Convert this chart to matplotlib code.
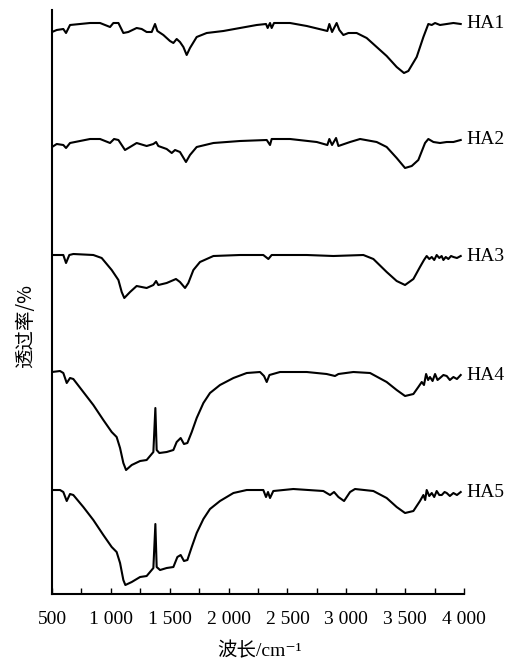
import matplotlib.pyplot as plt
from matplotlib.ticker import FixedLocator

fonts = ['Liberation Serif', 'Noto Sans CJK SC', 'DejaVu Serif']
plt.rcParams['font.family'] = fonts

# wavenumber (cm-1) and transmittance (a.u., stacked)
ha1_wn = [500, 540, 596, 619, 653, 823, 908, 993, 1021, 1064, 1106, 1148, 1219, 1262, 1304,
          1347, 1375, 1395, 1446, 1502, 1531, 1559, 1587, 1616, 1644, 1672, 1729, 1814, 1956,
          2097, 2239, 2318, 2332, 2352, 2366, 2386, 2522, 2664, 2805, 2839, 2856, 2879, 2918,
          2941, 2975, 3018, 3088, 3173, 3258, 3343, 3428, 3490, 3527, 3598, 3655, 3697, 3726,
          3754, 3796, 3853, 3910, 3972]
ha1_t = [562, 564, 565, 561, 569, 571, 571, 567, 571, 571, 561, 562, 566, 565, 562,
         562, 570, 563, 559, 553, 551, 555, 552, 547, 539, 546, 557, 561, 563,
         566, 569, 570, 566, 571, 566, 571, 571, 568, 564, 563, 570, 562, 571,
         564, 559, 561, 561, 556, 547, 538, 527, 521, 523, 537, 557, 570, 569,
         571, 569, 570, 571, 570]

ha2_wn = [500, 540, 596, 619, 653, 823, 908, 993, 1027, 1064, 1120, 1163, 1219, 1304, 1361,
          1384, 1403, 1474, 1517, 1545, 1587, 1638, 1672, 1729, 1871, 2097, 2324, 2352, 2366,
          2522, 2749, 2839, 2856, 2879, 2913, 2933, 3032, 3117, 3258, 3343, 3428, 3499, 3556,
          3612, 3669, 3697, 3740, 3796, 3853, 3910, 3972]
ha2_t = [447, 450, 449, 446, 451, 455, 455, 451, 455, 454, 444, 447, 451, 448, 450,
         452, 448, 445, 441, 444, 442, 432, 439, 447, 451, 453, 454, 449, 455,
         455, 452, 449, 455, 449, 456, 448, 452, 455, 452, 447, 436, 426, 428,
         434, 451, 455, 452, 451, 452, 452, 454]

ha3_wn = [500, 596, 619, 647, 681, 851, 922, 1007, 1064, 1092, 1114, 1163, 1219, 1304, 1361,
          1384, 1403, 1474, 1553, 1587, 1630, 1658, 1701, 1757, 1871, 2097, 2295, 2338, 2366,
          2664, 2890, 3145, 3230, 3343, 3428, 3499, 3570, 3626, 3660, 3683, 3705, 3726, 3747,
          3768, 3790, 3810, 3825, 3845, 3867, 3890, 3910, 3940, 3972]
ha3_t = [339, 339, 331, 339, 340, 339, 336, 324, 314, 302, 296, 302, 308, 306, 309,
         313, 309, 311, 315, 312, 306, 311, 324, 332, 338, 339, 339, 335, 339,
         339, 338, 339, 335, 322, 313, 309, 315, 327, 334, 338, 335, 337, 334,
         339, 336, 338, 334, 337, 335, 338, 337, 336, 338]

ha4_wn = [500, 568, 596, 625, 653, 681, 766, 851, 936, 1007, 1049, 1078, 1106, 1129, 1177,
          1248, 1304, 1361, 1378, 1389, 1412, 1474, 1531, 1559, 1593, 1621, 1650, 1687, 1729,
          1786, 1842, 1927, 2041, 2154, 2267, 2301, 2324, 2347, 2437, 2664, 2833, 2904, 2933,
          3060, 3202, 3343, 3428, 3499, 3570, 3612, 3641, 3660, 3678, 3695, 3711, 3733, 3754,
          3775, 3796, 3825, 3853, 3880, 3910, 3940, 3972]
ha4_t = [222, 223, 221, 211, 216, 215, 202, 189, 174, 162, 157, 146, 131, 124, 129,
         133, 134, 142, 186, 144, 141, 142, 144, 152, 156, 150, 151, 162, 176,
         191, 201, 209, 216, 221, 222, 218, 212, 219, 222, 222, 220, 218, 220,
         222, 221, 212, 204, 198, 200, 207, 212, 209, 220, 214, 217, 213, 220,
         214, 216, 219, 218, 214, 217, 215, 219]

ha5_wn = [500, 568, 596, 625, 653, 681, 766, 851, 936, 1007, 1049, 1078, 1106, 1123, 1177,
          1248, 1304, 1361, 1378, 1389, 1418, 1474, 1531, 1565, 1593, 1621, 1650, 1687, 1729,
          1786, 1842, 1927, 2041, 2154, 2295, 2318, 2335, 2352, 2380, 2550, 2805, 2862, 2896,
          2933, 2981, 3032, 3074, 3230, 3343, 3428, 3499, 3570, 3626, 3655, 3670, 3683, 3705,
          3726, 3747, 3768, 3790, 3811, 3835, 3853, 3880, 3910, 3940, 3972]
ha5_t = [104, 104, 102, 93, 100, 99, 87, 74, 59, 47, 42, 31, 14, 9, 12,
         17, 18, 26, 70, 27, 24, 26, 27, 37, 39, 33, 34, 47, 61,
         75, 85, 93, 101, 104, 104, 97, 102, 96, 103, 105, 103, 99, 102,
         97, 93, 102, 105, 103, 96, 87, 81, 83, 93, 99, 94, 104, 98,
         101, 97, 103, 99, 99, 102, 101, 98, 101, 99, 102]

names = ['HA1', 'HA2', 'HA3', 'HA4', 'HA5']
wns = [ha1_wn, ha2_wn, ha3_wn, ha4_wn, ha5_wn]
vals = [ha1_t, ha2_t, ha3_t, ha4_t, ha5_t]

major = [500, 1000, 1500, 2000, 2500, 3000, 3500, 4000]
major_labels = ['500', '1 000', '1 500', '2 000', '2 500', '3 000', '3 500', '4 000']
minor = [750, 1250, 1750, 2250, 2750, 3250, 3750]

fig = plt.figure(figsize=(5.09, 6.62), dpi=100)
ax = fig.add_axes([0.1022, 0.1027, 0.8094, 0.8822])

for name, wn, t in zip(names, wns, vals):
    ax.plot(wn, t, color='black', lw=1.5)
    ax.text(4020, t[-1], name, ha='left', va='center', fontsize=14, clip_on=False)

ax.set_xlim(500, 4000)
ax.set_ylim(0, 584)
ax.spines['top'].set_visible(False)
ax.spines['right'].set_visible(False)
ax.spines['left'].set_linewidth(1.5)
ax.spines['bottom'].set_linewidth(1.5)
ax.set_yticks([])
ax.xaxis.set_major_locator(FixedLocator(major))
ax.xaxis.set_minor_locator(FixedLocator(minor))
ax.set_xticklabels(major_labels, fontsize=14)
ax.tick_params(axis='x', which='both', direction='in', length=4, width=1, pad=12)

fig.text(260 / 509, 1 - 651 / 662, '波长/cm⁻¹', ha='center', va='center', fontsize=14)
fig.text(26 / 509, 1 - 326 / 662, '透过率/%', ha='center', va='center', fontsize=14,
         rotation=90, family='Noto Sans CJK SC')

fig.savefig('out.png', dpi=100)
